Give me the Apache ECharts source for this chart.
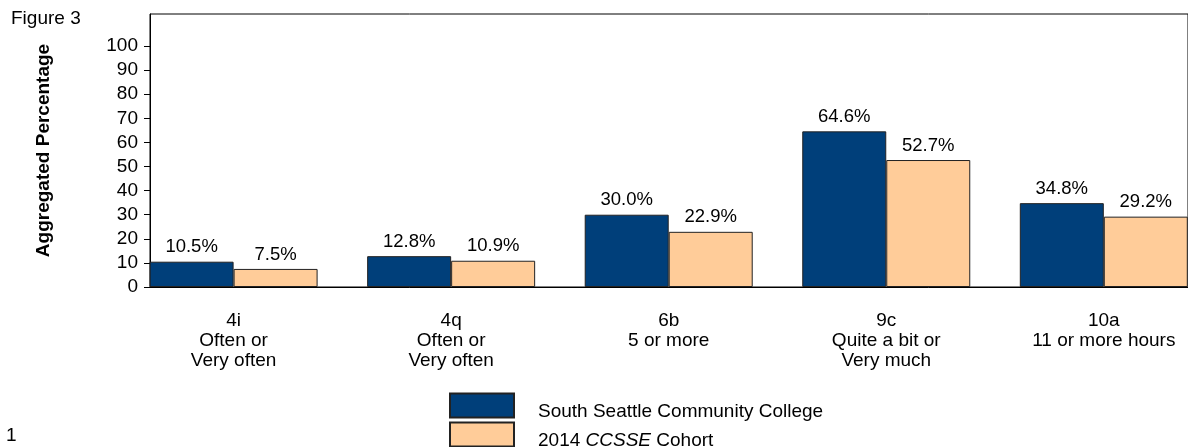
<!DOCTYPE html>
<html>
<head>
<meta charset="utf-8">
<script src="https://cdn.jsdelivr.net/npm/echarts@6/dist/echarts.min.js"></script>
<style>
  html, body { margin: 0; padding: 0; background: #fff; }
  #main { width: 1188px; height: 447px; }
</style>
</head>
<body>
<div id="main"></div>
<script>
  // data
  const categories = ['4i\nOften or\nVery often', '4q\nOften or\nVery often', '6b\n5 or more', '9c\nQuite a bit or\nVery much', '10a\n11 or more hours'];
  const college = [10.5, 12.8, 30.0, 64.6, 34.8];
  const cohort = [7.5, 10.9, 22.9, 52.7, 29.2];
  const yTicks = [0, 10, 20, 30, 40, 50, 60, 70, 80, 90, 100];
  const seriesNames = ['South Seattle Community College', '2014 CCSSE Cohort'];

  const font = 'Liberation Sans, Arial, sans-serif';
  const blue = '#003f7a';
  const peach = '#ffcc99';
  const fs = 19;

  const chart = echarts.init(document.getElementById('main'));

  const toPoints = arr => arr.map((v, i) => [i, v]);

  const barLabel = {
    show: true,
    position: 'top',
    distance: 5,
    color: '#000',
    fontFamily: font,
    fontSize: 18.5,
    formatter: p => p.value[1].toFixed(1) + '%'
  };

  // one legend per entry so the two boxes stack like the original key
  const legendFor = (name, top) => ({
    orient: 'vertical',
    left: 449, top: top,
    padding: 0,
    itemWidth: 64, itemHeight: 24,
    icon: 'rect',
    selectedMode: false,
    data: [name],
    textStyle: {
      fontSize: fs, color: '#000', fontFamily: font, padding: [12, 0, 0, 19],
      rich: {
        n: { fontSize: fs, color: '#000', fontFamily: font },
        i: { fontSize: fs, color: '#000', fontFamily: font, fontStyle: 'italic' }
      }
    },
    formatter: n => n === '2014 CCSSE Cohort' ? '{n|2014 }{i|CCSSE}{n| Cohort}' : n
  });

  chart.setOption({
    animation: false,
    textStyle: { fontFamily: font },
    title: [
      { text: 'Figure 3', left: 11, top: 9, padding: 0, textStyle: { fontSize: fs, fontWeight: 'normal', color: '#000', fontFamily: font } },
      { text: '1', left: 6, top: 426, padding: 0, textStyle: { fontSize: fs, fontWeight: 'normal', color: '#000', fontFamily: font } }
    ],
    grid: {
      show: true, borderColor: '#000', borderWidth: 1,
      left: 150, right: -5, top: 14, bottom: 160
    },
    legend: [legendFor(seriesNames[0], 392.5), legendFor(seriesNames[1], 421.5)],
    xAxis: {
      type: 'value',
      min: -0.3843,
      max: 4.387,
      splitLine: { show: false },
      axisLine: { show: true, onZero: false, lineStyle: { color: '#000', width: 1 } },
      axisTick: { show: false },
      axisLabel: {
        customValues: [0, 1, 2, 3, 4],
        formatter: v => categories[Math.round(v)],
        color: '#000', fontSize: fs, lineHeight: 20, margin: 24, fontFamily: font
      }
    },
    yAxis: {
      type: 'value',
      min: 0,
      max: 113.3,
      name: 'Aggregated Percentage',
      nameLocation: 'middle',
      nameGap: 97,
      nameTextStyle: { fontSize: fs, fontWeight: 'bold', color: '#000', fontFamily: font },
      splitLine: { show: false },
      axisLine: { show: true, onZero: false, lineStyle: { color: '#000', width: 1 } },
      axisTick: { show: true, length: 6, customValues: yTicks, lineStyle: { color: '#000' } },
      axisLabel: { customValues: yTicks, color: '#000', fontSize: fs, margin: 12, fontFamily: font }
    },
    series: [
      {
        name: seriesNames[0],
        type: 'bar',
        data: toPoints(college),
        barWidth: 84,
        barGap: 0,
        itemStyle: { color: blue, borderColor: '#222', borderWidth: 1 },
        label: barLabel
      },
      {
        name: seriesNames[1],
        type: 'bar',
        data: toPoints(cohort),
        barWidth: 84,
        barGap: 0,
        itemStyle: { color: peach, borderColor: '#222', borderWidth: 1 },
        label: barLabel
      }
    ]
  });
</script>
</body>
</html>
